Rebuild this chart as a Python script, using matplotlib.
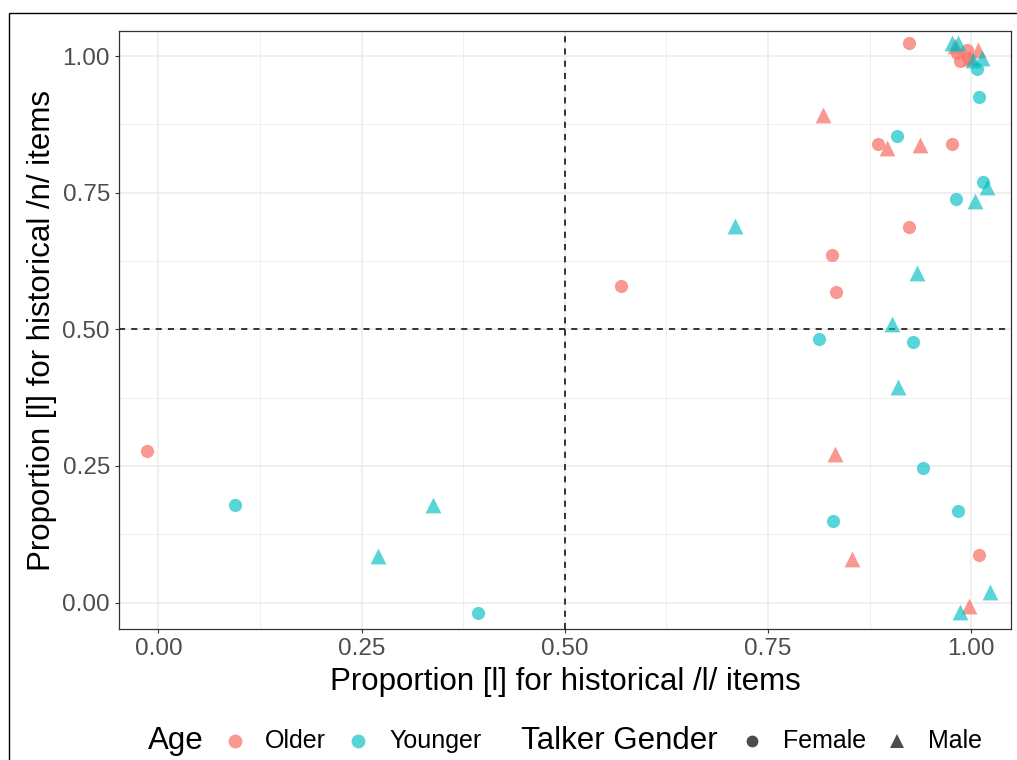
import matplotlib.pyplot as plt
from matplotlib.lines import Line2D
from matplotlib.patches import Rectangle

plt.rcParams['font.family'] = ['Liberation Sans', 'DejaVu Sans']

# values (x = /l/ items, y = /n/ items)
older_female_x = [-0.014, 0.569, 0.829, 0.834, 0.924, 0.885, 0.977, 0.924, 1.010,
                  0.982, 0.986, 0.995, 0.996]
older_female_y = [0.277, 0.580, 0.636, 0.569, 0.687, 0.839, 0.840, 1.024, 0.087,
                  1.006, 0.991, 1.012, 0.997]
older_male_x = [0.818, 0.896, 0.937, 0.833, 0.853, 0.997, 0.980, 1.009, 0.999]
older_male_y = [0.892, 0.831, 0.837, 0.271, 0.079, -0.006, 1.019, 1.012, 0.997]
younger_female_x = [0.094, 0.393, 0.909, 1.014, 0.981, 0.813, 0.929, 0.941, 0.984,
                    0.830, 1.007, 1.010]
younger_female_y = [0.179, -0.020, 0.854, 0.769, 0.738, 0.482, 0.477, 0.247, 0.168,
                    0.150, 0.976, 0.925]
younger_male_x = [0.270, 0.338, 0.709, 1.019, 1.005, 0.933, 0.902, 0.910, 1.023,
                  0.986, 0.976, 0.984, 1.013, 1.002]
younger_male_y = [0.085, 0.179, 0.689, 0.760, 0.734, 0.603, 0.510, 0.395, 0.019,
                  -0.017, 1.024, 1.024, 0.997, 0.993]

ticks = [0.0, 0.25, 0.5, 0.75, 1.0]
tick_labels = ['0.00', '0.25', '0.50', '0.75', '1.00']
minor_ticks = [0.125, 0.375, 0.625, 0.875]

red = '#F8766D'
teal = '#00BFC4'

fig = plt.figure(figsize=(10.17, 7.6), dpi=100)
ax = fig.add_axes([0.1174, 0.1720, 0.8767, 0.7872])

ax.scatter(older_female_x, older_female_y, s=90, marker='o', color=red, alpha=0.75,
           linewidths=0, zorder=3)
ax.scatter(older_male_x, older_male_y, s=130, marker='^', color=red, alpha=0.75,
           linewidths=0, zorder=3)
ax.scatter(younger_female_x, younger_female_y, s=90, marker='o', color=teal, alpha=0.65,
           linewidths=0, zorder=3)
ax.scatter(younger_male_x, younger_male_y, s=130, marker='^', color=teal, alpha=0.65,
           linewidths=0, zorder=3)

ax.axvline(0.5, color='black', linestyle=(0, (4, 4)), linewidth=1.1, zorder=2)
ax.axhline(0.5, color='black', linestyle=(0, (4, 4)), linewidth=1.1, zorder=2)

ax.set_xlim(-0.048, 1.049)
ax.set_ylim(-0.049, 1.046)
ax.set_xticks(ticks)
ax.set_xticklabels(tick_labels)
ax.set_yticks(ticks)
ax.set_yticklabels(tick_labels)
ax.set_xticks(minor_ticks, minor=True)
ax.set_yticks(minor_ticks, minor=True)
ax.grid(which='major', color='#EBEBEB', linewidth=1.1, zorder=0)
ax.grid(which='minor', color='#EBEBEB', linewidth=0.55, zorder=0)
ax.set_axisbelow(True)
ax.tick_params(which='major', length=3.2, width=0.8, color='#333333',
               labelsize=17.5, labelcolor='#4D4D4D')
ax.tick_params(axis='x', which='major', pad=3)
ax.tick_params(axis='y', which='major', pad=3.6)
ax.tick_params(which='minor', length=0)
for sp in ax.spines.values():
    sp.set_color('#333333')
    sp.set_linewidth(0.9)

ax.set_xlabel('Proportion [l] for historical /l/ items', fontsize=22.5, labelpad=5)
ax.set_ylabel('Proportion [l] for historical /n/ items', fontsize=22.5, labelpad=3.5)

# outer frame
fig.add_artist(Rectangle((9 / 1017, -0.05), 1.2, 1 - 13 / 760 + 0.05,
                         transform=fig.transFigure, fill=False,
                         edgecolor='black', linewidth=1.0))

# legend at the bottom
ly = 1 - 741 / 760
W = 1017
fig.text(148 / W, ly, 'Age', fontsize=22.5, va='center', ha='left')
fig.add_artist(Line2D([235 / W], [ly], marker='o', markersize=10, color=red, alpha=0.75,
                      markeredgewidth=0, transform=fig.transFigure))
fig.text(265 / W, ly, 'Older', fontsize=18, va='center', ha='left')
fig.add_artist(Line2D([358 / W], [ly], marker='o', markersize=10, color=teal, alpha=0.65,
                      markeredgewidth=0, transform=fig.transFigure))
fig.text(389 / W, ly, 'Younger', fontsize=18, va='center', ha='left')
fig.text(521 / W, ly, 'Talker Gender', fontsize=22.5, va='center', ha='left')
fig.add_artist(Line2D([752 / W], [ly], marker='o', markersize=8.5, color='#4D4D4D',
                      markeredgewidth=0, transform=fig.transFigure))
fig.text(783 / W, ly, 'Female', fontsize=18, va='center', ha='left')
fig.add_artist(Line2D([897 / W], [ly], marker='^', markersize=10, color='#4D4D4D',
                      markeredgewidth=0, transform=fig.transFigure))
fig.text(928 / W, ly, 'Male', fontsize=18, va='center', ha='left')

fig.savefig('out.png', dpi=100)
